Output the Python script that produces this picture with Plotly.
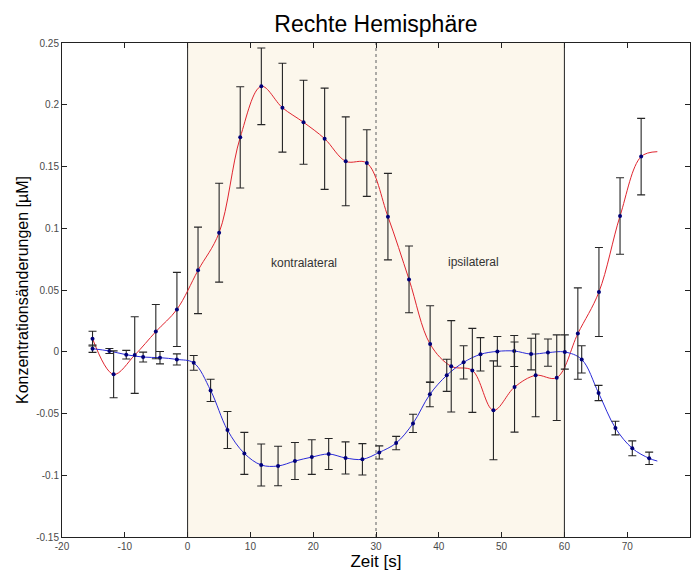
import plotly.graph_objects as go

# Zeitachse der Messpunkte [s]
red_x0, red_step, red_n = -15.14, 3.36, 27
blue_x0, blue_step, blue_n = -15.14, 2.686, 34
red_x = [round(red_x0 + red_step * i, 3) for i in range(red_n)]
blue_x = [round(blue_x0 + blue_step * i, 3) for i in range(blue_n)]

# Mittelwerte und Standardfehler [µM]
red_y = [0.0106, -0.0183, -0.0027, 0.0163, 0.0343, 0.0659, 0.0964, 0.1736,
         0.2149, 0.1976, 0.1858, 0.1725, 0.1542, 0.1528, 0.1094, 0.0586,
         0.0062, -0.0118, -0.0151, -0.0474, -0.0286, -0.0191, -0.0210,
         0.0147, 0.0484, 0.1099, 0.1580]
red_err = [0.006, 0.019, 0.031, 0.022, 0.030, 0.035, 0.040, 0.041, 0.031,
           0.036, 0.034, 0.041, 0.036, 0.027, 0.035, 0.027, 0.031, 0.037,
           0.034, 0.040, 0.0365, 0.0335, 0.0347, 0.037, 0.036, 0.031, 0.031]

blue_y = [0.0025, 0.0006, -0.0024, -0.0043, -0.0048, -0.0062, -0.0090,
          -0.0313, -0.0634, -0.0823, -0.0917, -0.0925, -0.0885, -0.0853,
          -0.0828, -0.0860, -0.0871, -0.0815, -0.0739, -0.0580, -0.0345,
          -0.0191, -0.0086, -0.0021, 0.0003, 0.0006, -0.0019, -0.0007,
          -0.0002, -0.0062, -0.0334, -0.0618, -0.0782, -0.0863]
blue_err = [0.003, 0.002, 0.0035, 0.004, 0.005, 0.0045, 0.006, 0.009, 0.015,
            0.017, 0.017, 0.016, 0.015, 0.014, 0.0125, 0.013, 0.0127, 0.0053,
            0.0054, 0.0074, 0.010, 0.013, 0.0135, 0.0135, 0.012, 0.0125,
            0.0128, 0.011, 0.0139, 0.011, 0.0062, 0.0055, 0.006, 0.005]

# Endpunkte der geglätteten Verläufe
tail_x = 74.8
red_tail = 0.162
blue_tail = -0.0885

# Stimulationsphasen
phase_start, phase_mid, phase_end = 0, 30, 60
phase_labels = ["kontralateral", "ipsilateral"]
phase_label_x = [18.6, 45.6]
phase_label_y = [0.072, 0.073]

x_ticks = [-20, -10, 0, 10, 20, 30, 40, 50, 60, 70, 80]
x_tick_text = ["-20", "-10", "0", "10", "20", "30", "40", "50", "60", "70", "80"]
y_ticks = [-0.15, -0.1, -0.05, 0, 0.05, 0.1, 0.15, 0.2, 0.25]
y_tick_text = ["-0.15", "-0.1", "-0.05", "0", "0.05", "0.1", "0.15", "0.2", "0.25"]

FONT = "Arial, Liberation Sans, sans-serif"

fig = go.Figure()

# geglättete Kurven
fig.add_trace(go.Scatter(
    x=red_x + [tail_x], y=red_y + [red_tail], mode="lines",
    line=dict(color="#e0252f", width=1, shape="spline", smoothing=1.0),
    hoverinfo="skip"))
fig.add_trace(go.Scatter(
    x=blue_x + [tail_x], y=blue_y + [blue_tail], mode="lines",
    line=dict(color="#2a2ad8", width=1, shape="spline", smoothing=1.0),
    hoverinfo="skip"))

# Messpunkte mit Fehlerbalken
for xs, ys, es in [(blue_x, blue_y, blue_err), (red_x, red_y, red_err)]:
    fig.add_trace(go.Scatter(
        x=xs, y=ys, mode="markers",
        marker=dict(color="#00007a", size=4),
        error_y=dict(type="data", array=es, visible=True,
                     color="#262626", thickness=1.1, width=4)))

# Hintergrund der Stimulationsphase und Markierungen
fig.add_shape(type="rect", xref="x", yref="paper", x0=phase_start, x1=phase_end,
              y0=0, y1=1, fillcolor="#fcf7ec", line=dict(width=0), layer="below")
for xv in (phase_start, phase_end):
    fig.add_shape(type="line", xref="x", yref="paper", x0=xv, x1=xv, y0=0, y1=1,
                  line=dict(color="#222222", width=1), layer="below")
fig.add_shape(type="line", xref="x", yref="paper", x0=phase_mid, x1=phase_mid,
              y0=0, y1=1, line=dict(color="#777777", width=1.2, dash="dot"),
              layer="below")

for txt, tx, ty in zip(phase_labels, phase_label_x, phase_label_y):
    fig.add_annotation(x=tx, y=ty, text=txt, showarrow=False,
                       font=dict(family=FONT, size=12, color="#333333"))

axis_common = dict(showline=True, linecolor="#222222", linewidth=1, mirror="ticks",
                   ticks="inside", ticklen=5, tickcolor="#222222", showgrid=False,
                   zeroline=False,
                   tickfont=dict(family=FONT, size=10, color="#4a4a4a"))

fig.update_xaxes(range=[-20, 80], tickvals=x_ticks, ticktext=x_tick_text,
                 title=dict(text="Zeit [s]", standoff=2,
                            font=dict(family=FONT, size=17, color="#000000")),
                 **axis_common)
fig.update_yaxes(range=[-0.15, 0.25], tickvals=y_ticks, ticktext=y_tick_text,
                 title=dict(text="Konzentrationsänderungen [µM]", standoff=3,
                            font=dict(family=FONT, size=16, color="#000000")),
                 **axis_common)

fig.update_layout(
    width=695, height=572,
    margin=dict(l=62, r=5, t=43, b=35),
    paper_bgcolor="white", plot_bgcolor="white",
    showlegend=False,
    title=dict(text="Rechte Hemisphäre", x=0.541, xanchor="center",
               yref="container", y=0.958, yanchor="middle",
               font=dict(family=FONT, size=23, color="#000000")),
)

fig.write_html("out.html")
